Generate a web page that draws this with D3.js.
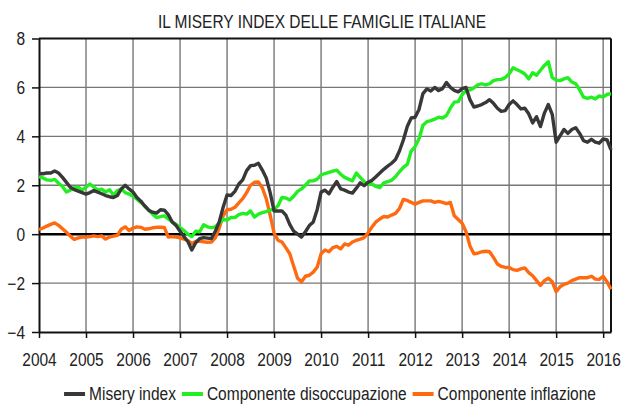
<!DOCTYPE html>
<html lang="it">
<head>
<meta charset="UTF-8">
<title>Misery index</title>
<script src="https://cdn.jsdelivr.net/npm/d3@7"></script>
<style>
  body { margin: 0; background: #fff; }
  svg { display: block; }
  text { font-family: "Liberation Sans", Arial, sans-serif; fill: #222; }
</style>
</head>
<body>
<svg id="chart"></svg>
<script>
// monthly values, Jan 2004 -> Mar 2016
const startYear = 2004
const misery = [
  2.48, 2.47, 2.5, 2.5, 2.58, 2.5, 2.32, 2.12, 1.92, 1.82, 1.76, 1.7,
  1.64, 1.7, 1.78, 1.72, 1.65, 1.58, 1.53, 1.5, 1.58, 1.85, 2.0, 1.85,
  1.72, 1.5, 1.35, 1.15, 0.98, 0.9, 0.86, 1.0, 0.98, 0.8, 0.5, 0.35,
  0.12, -0.1, -0.3, -0.65, -0.35, -0.18, -0.14, -0.16, -0.18, 0.12, 0.5, 1.1,
  1.6, 1.58, 1.75, 2.05, 2.22, 2.6, 2.8, 2.82, 2.9, 2.62, 2.3, 1.7,
  0.95, 0.95, 0.95, 0.78, 0.4, 0.12, 0.0, -0.12, 0.1, 0.35, 0.5, 1.0,
  1.72, 1.8, 1.65, 1.92, 2.15, 1.85, 1.8, 1.72, 1.68, 1.88, 2.1, 1.98,
  2.12, 2.2, 2.35, 2.5, 2.65, 2.78, 2.9, 3.05, 3.4, 3.85, 4.4, 4.75,
  4.78, 5.1, 5.75, 5.94, 5.85, 6.0, 5.87, 5.95, 6.2, 6.0, 5.88, 5.82,
  5.95, 6.0, 5.5, 5.2, 5.24, 5.3, 5.38, 5.5, 5.35, 5.15, 5.02, 5.05,
  5.3, 5.45, 5.3, 5.12, 5.15, 4.92, 4.55, 4.8, 4.4, 4.95, 5.3, 4.9,
  3.76, 4.02, 4.28, 4.12, 4.28, 4.35, 4.12, 3.82, 3.76, 3.88, 3.76, 3.72,
  3.89, 3.85, 3.45
]
const disoccupazione = [
  2.35, 2.3, 2.22, 2.2, 2.24, 2.08, 1.95, 1.72, 1.8, 1.9, 1.92, 1.8,
  1.92, 2.05, 1.92, 1.8, 1.84, 1.72, 1.82, 1.6, 1.78, 1.84, 1.7, 1.64,
  1.55, 1.43, 1.3, 1.15, 0.98, 0.82, 0.68, 0.72, 0.75, 0.62, 0.5, 0.4,
  0.27, 0.15, 0.0, -0.1, 0.12, 0.1, 0.38, 0.3, 0.27, 0.3, 0.45, 0.6,
  0.58, 0.68, 0.68, 0.8, 0.85, 0.82, 0.95, 0.7, 0.82, 0.88, 0.92, 0.98,
  1.02, 1.16, 1.5, 1.48, 1.4, 1.55, 1.75, 1.85, 2.0, 2.18, 2.18, 2.25,
  2.42, 2.48, 2.53, 2.58, 2.62, 2.45, 2.32, 2.25, 2.18, 2.5, 2.32, 2.15,
  2.05, 2.05, 1.95, 1.9, 2.1, 2.15, 2.2, 2.35, 2.55, 2.73, 2.85, 3.4,
  3.58, 3.9, 4.45, 4.6, 4.64, 4.7, 4.78, 4.75, 4.85, 5.15, 5.4, 5.42,
  5.7, 5.87, 5.9, 5.98, 6.1, 6.15, 6.1, 6.15, 6.28, 6.32, 6.33, 6.4,
  6.56, 6.8, 6.72, 6.65, 6.55, 6.35, 6.6, 6.5, 6.7, 6.9, 7.05, 6.4,
  6.3, 6.28, 6.35, 6.4, 6.22, 6.15, 5.9, 5.6, 5.55, 5.6, 5.53, 5.65,
  5.6, 5.72, 5.74
]
const inflazione = [
  0.18, 0.25, 0.33, 0.4, 0.46, 0.36, 0.22, 0.08, -0.08, -0.22, -0.15, -0.12,
  -0.12, -0.1, -0.07, -0.1, -0.07, -0.2, -0.12, -0.08, -0.05, 0.2, 0.3, 0.15,
  0.25, 0.3, 0.28, 0.2, 0.22, 0.26, 0.28, 0.28, 0.27, -0.12, -0.1, -0.12,
  -0.15, -0.2, -0.27, -0.38, -0.3, -0.28, -0.31, -0.33, -0.32, -0.15, 0.25, 0.75,
  1.0, 1.02, 1.1, 1.28, 1.45, 1.7, 2.0, 2.12, 2.13, 1.9, 1.45, 0.78,
  0.05, -0.25, -0.32, -0.55, -0.8, -1.3, -1.8, -1.95, -1.72, -1.68, -1.55, -1.35,
  -0.8, -0.65, -0.72, -0.55, -0.5, -0.6, -0.4, -0.45, -0.32, -0.25, -0.2, -0.14,
  0.05, 0.3, 0.5, 0.62, 0.72, 0.7, 0.78, 0.85, 1.05, 1.42, 1.38, 1.3,
  1.23, 1.3, 1.36, 1.36, 1.36, 1.3, 1.34, 1.3, 1.25, 1.3, 0.75, 0.6,
  0.45, 0.1, -0.48, -0.8, -0.78, -0.72, -0.7, -0.72, -0.95, -1.22, -1.32, -1.36,
  -1.36, -1.45, -1.48, -1.42, -1.38, -1.57, -1.7, -1.9, -2.1, -1.9, -1.8, -1.95,
  -2.35, -2.15, -2.05, -2.0, -1.9, -1.84, -1.78, -1.78, -1.78, -1.72, -1.84, -1.85,
  -1.72, -1.95, -2.25
]
const years = d3.range(2004, 2017)
const yTicks = [-4, -2, 0, 2, 4, 6, 8]
const seriesNames = ["Misery index", "Componente disoccupazione", "Componente inflazione"]
const seriesColors = ["#383838", "#22ee22", "#ff6a10"]

const width = 626, height = 405
const narrow = 0.86 // the original uses a condensed face; squeeze text to match
const svg = d3.select("#chart").attr("width", width).attr("height", height)

function squeeze(sel) {
  sel.each(function () {
    const w = this.getComputedTextLength()
    d3.select(this).attr("textLength", w * narrow).attr("lengthAdjust", "spacingAndGlyphs")
  })
}

const x = d3.scaleLinear().domain([startYear, startYear + (misery.length - 1) / 12]).range([39, 611])
const y = d3.scaleLinear().domain([-4, 8]).range([332, 38.5])

// grid
svg.append("g").selectAll("line").data(years.slice(1))
  .join("line")
  .attr("x1", d => x(d)).attr("x2", d => x(d))
  .attr("y1", y(8)).attr("y2", y(-4))
  .attr("stroke", "#777").attr("stroke-width", 1.4)
svg.append("g").selectAll("line").data([-2, 2, 4, 6])
  .join("line")
  .attr("x1", x.range()[0]).attr("x2", x.range()[1])
  .attr("y1", d => y(d)).attr("y2", d => y(d))
  .attr("stroke", "#777").attr("stroke-width", 1.4)

// frame
svg.append("line").attr("x1", x.range()[0]).attr("x2", x.range()[1]).attr("y1", y(8)).attr("y2", y(8))
  .attr("stroke", "#111").attr("stroke-width", 2)
svg.append("line").attr("x1", x.range()[1]).attr("x2", x.range()[1]).attr("y1", y(8)).attr("y2", y(-4))
  .attr("stroke", "#111").attr("stroke-width", 2)
svg.append("line").attr("x1", x.range()[0]).attr("x2", x.range()[1]).attr("y1", y(0)).attr("y2", y(0))
  .attr("stroke", "#000").attr("stroke-width", 2.5)

// axes
const xAxis = svg.append("g").attr("transform", `translate(0,${y(-4)})`)
  .call(d3.axisBottom(x).tickValues(years).tickFormat(d3.format("d")).tickSize(6).tickPadding(15).tickSizeOuter(0))
const yAxis = svg.append("g").attr("transform", `translate(${x(startYear)},0)`)
  .call(d3.axisLeft(y).tickValues(yTicks).tickSize(7).tickPadding(7).tickSizeOuter(0))
svg.selectAll(".domain").attr("stroke", "#111").attr("stroke-width", 2)
svg.selectAll(".tick line").attr("stroke", "#111").attr("stroke-width", 1.5)
svg.selectAll(".tick text").style("font-size", "18px").attr("fill", "#222")
yAxis.selectAll(".tick text").attr("dy", "0.34em")
squeeze(svg.selectAll(".tick text"))

// lines
const line = d3.line().x((d, i) => x(startYear + i / 12)).y(d => y(d))
const allSeries = [misery, disoccupazione, inflazione]
;[2, 1, 0].forEach(k => {
  svg.append("path").datum(allSeries[k])
    .attr("d", line)
    .attr("fill", "none")
    .attr("stroke", seriesColors[k])
    .attr("stroke-width", 3.4)
    .attr("stroke-linejoin", "round")
})

// title
svg.append("text").attr("x", 322).attr("y", 28).attr("text-anchor", "middle")
  .style("font-size", "18px").text("IL MISERY INDEX DELLE FAMIGLIE ITALIANE")
  .call(squeeze)

// legend
const legend = svg.append("g")
let lx = 0
seriesNames.forEach((name, k) => {
  const g = legend.append("g").attr("transform", `translate(${lx},0)`)
  g.append("line").attr("x1", 0).attr("x2", 21).attr("y1", -6).attr("y2", -6)
    .attr("stroke", seriesColors[k]).attr("stroke-width", 4)
  const t = g.append("text").attr("x", 25).attr("y", 0).style("font-size", "18px").text(name)
  const w = t.node().getComputedTextLength() * narrow
  t.attr("textLength", w).attr("lengthAdjust", "spacingAndGlyphs")
  lx += 25 + w + 6
})
legend.attr("transform", `translate(${330 - (lx - 6) / 2},400)`)
</script>
</body>
</html>
